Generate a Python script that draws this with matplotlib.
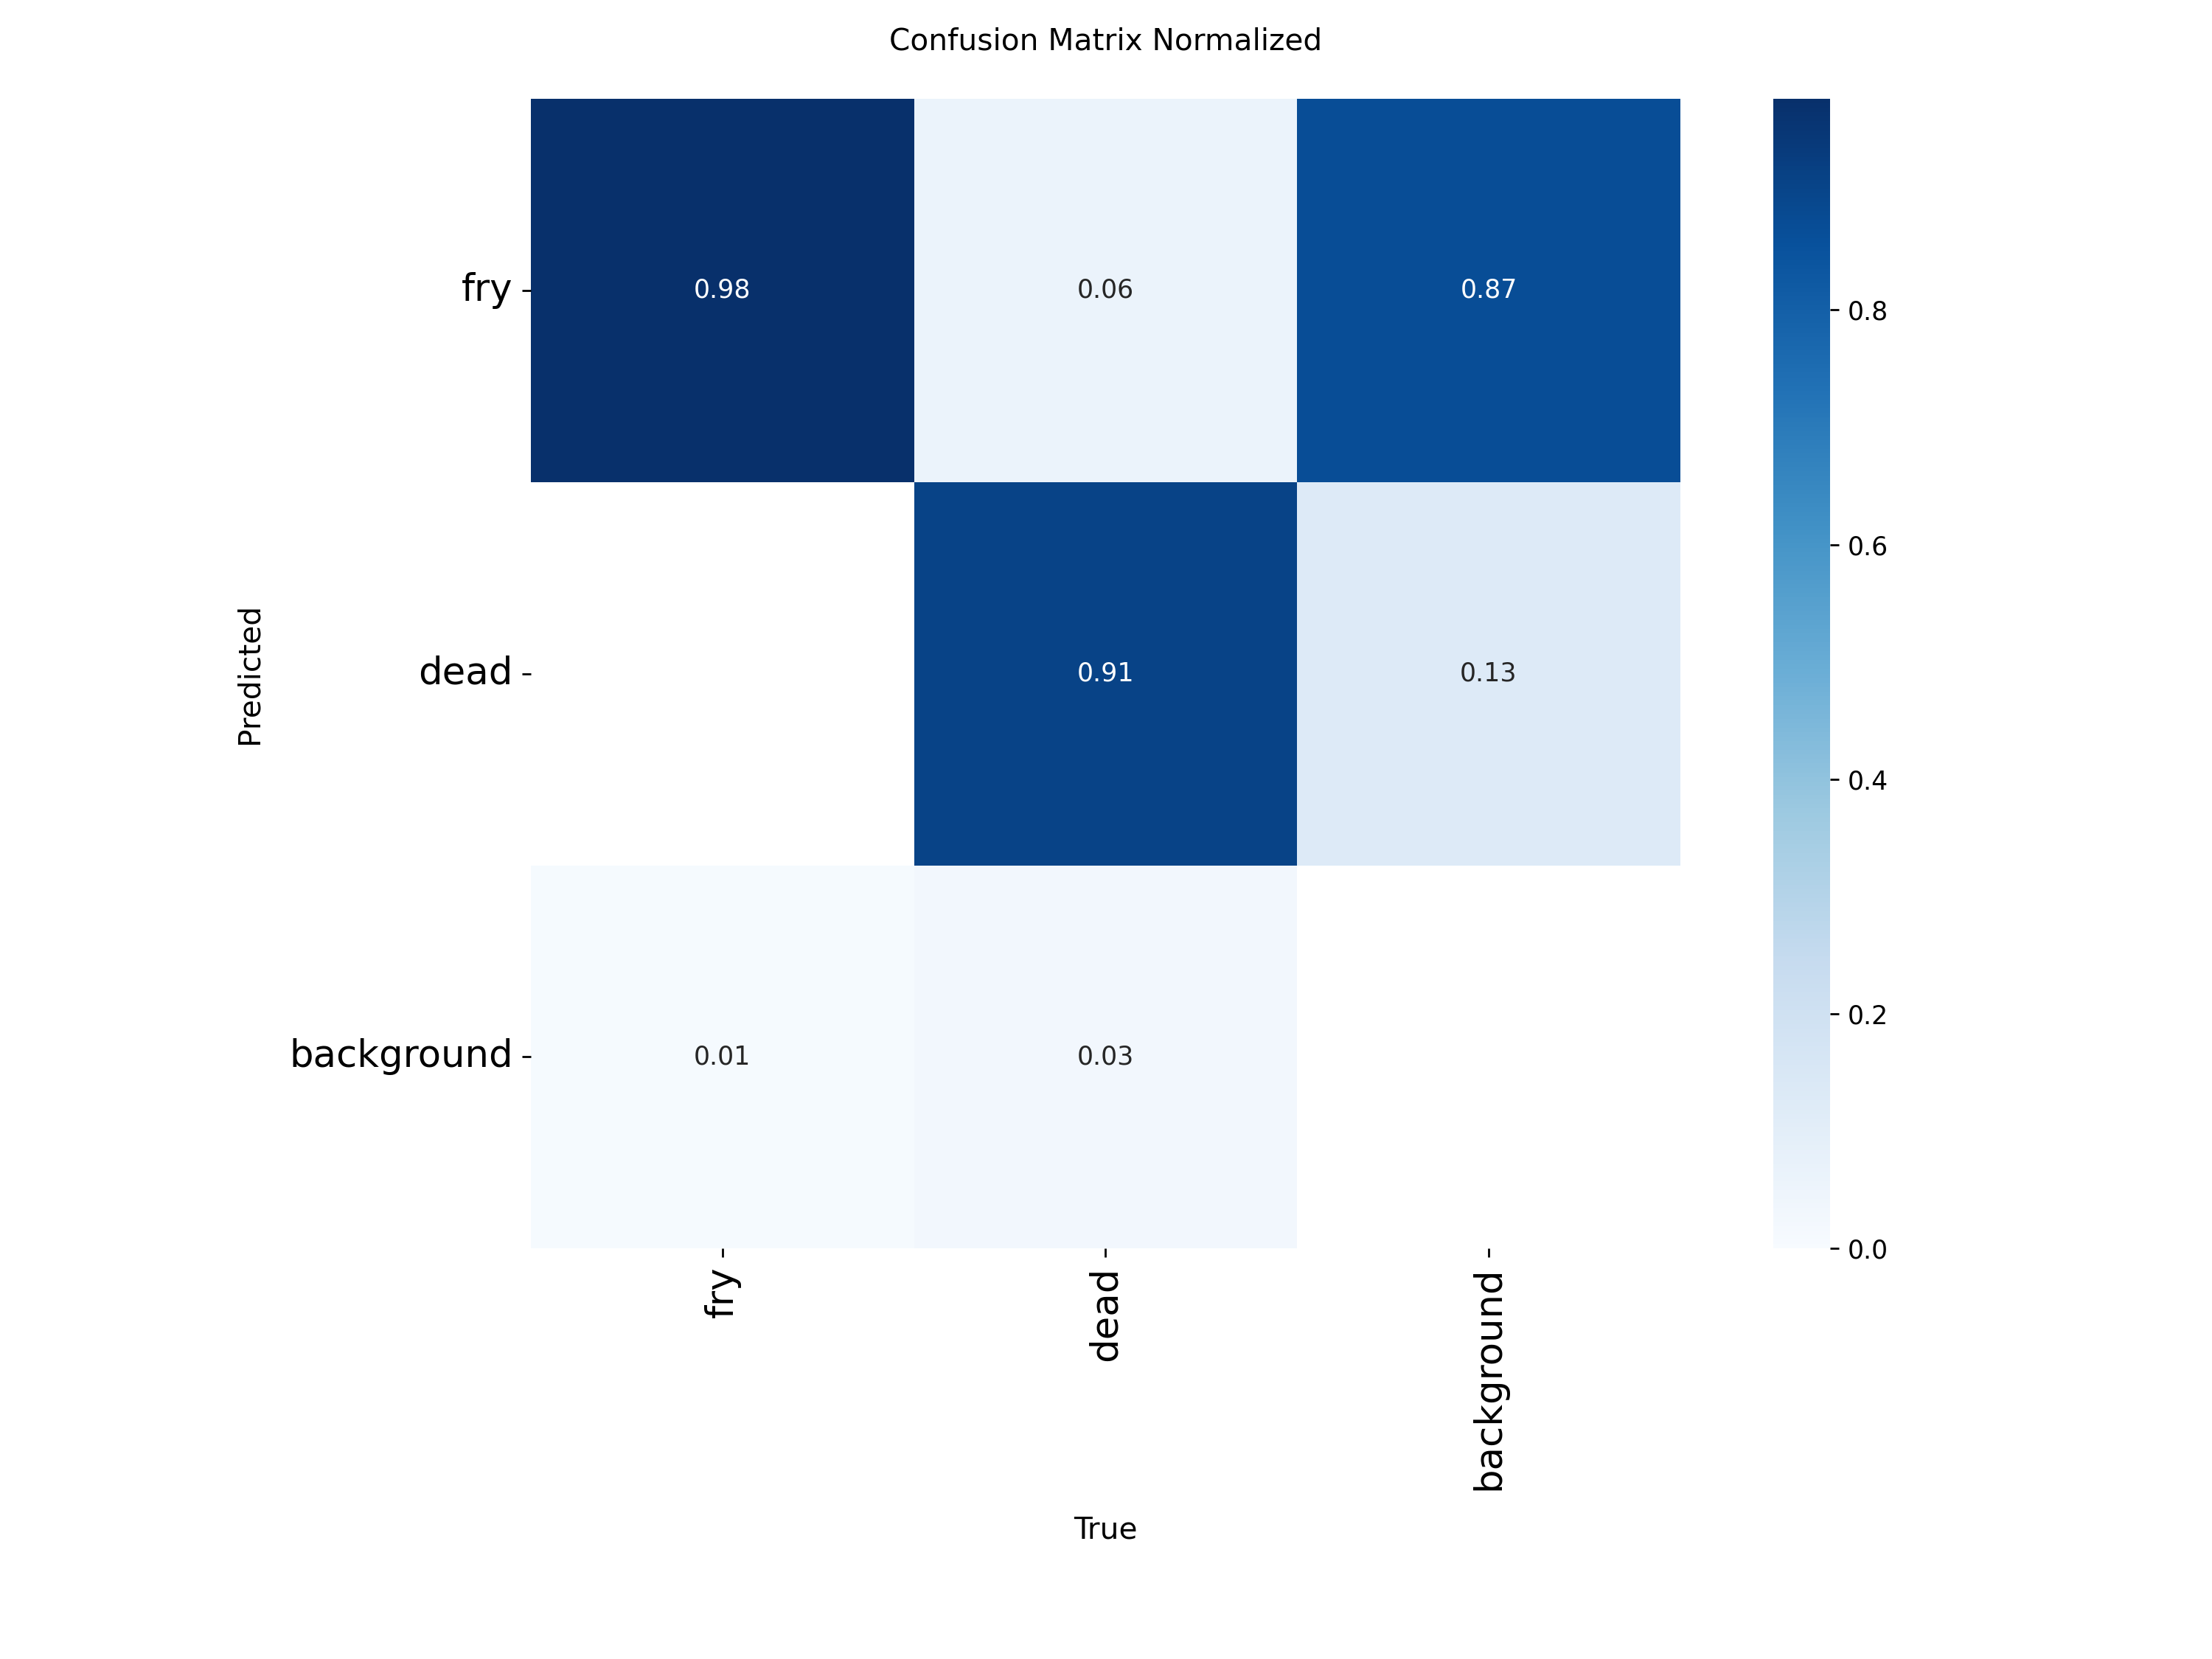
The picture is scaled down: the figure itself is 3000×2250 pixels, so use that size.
import numpy as np
import matplotlib
matplotlib.use("Agg")
import matplotlib.pyplot as plt
import seaborn as sns

names = ["fry", "dead", "background"]
# rows = predicted, columns = true
row_fry = [0.98, 0.06, 0.87]
row_dead = [np.nan, 0.91, 0.13]
row_background = [0.01, 0.03, np.nan]
matrix = np.array([row_fry, row_dead, row_background])

fig = plt.figure(figsize=(12, 9))
ax = fig.add_axes([0.24, 0.2474, 0.5196, 0.6931])
cax = fig.add_axes([0.8017, 0.2474, 0.0255, 0.6931])

sns.heatmap(matrix, ax=ax, cbar_ax=cax, annot=True, annot_kws={"size": 10},
            cmap="Blues", fmt=".2f", vmin=0.0, square=False,
            xticklabels=names, yticklabels=names)
ax.set_facecolor((1, 1, 1))
ax.set_xticklabels(names, fontsize=14.8, rotation=90)
ax.set_yticklabels(names, fontsize=14.8, rotation=0)
ax.set_xlabel("True", fontsize=11.7)
ax.set_ylabel("Predicted", fontsize=11.7)
ax.xaxis.set_label_coords(0.5, -0.232)
ax.yaxis.set_label_coords(-0.232, 0.5)
ax.set_title("Confusion Matrix Normalized", fontsize=11.7, pad=19)
cax.tick_params(labelsize=10)

fig.savefig("out.png", dpi=250)
